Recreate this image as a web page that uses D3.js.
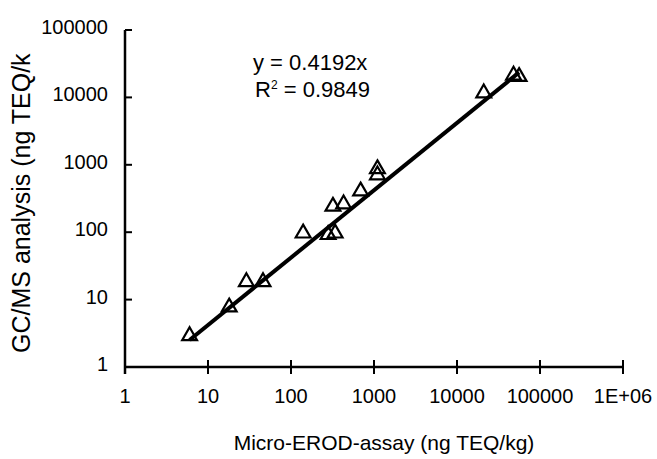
<!DOCTYPE html>
<html>
<head>
<meta charset="utf-8">
<script src="https://cdn.jsdelivr.net/npm/d3@7"></script>
<style>
  body { margin: 0; background: #fff; }
  text { font-family: "Liberation Sans", Arial, sans-serif; fill: #000; }
</style>
</head>
<body>
<div id="block"></div>
<script>
// data
var erod = [6, 18, 29, 46, 140, 280, 340, 320, 430, 690, 1100, 1100, 21000, 48000, 56000];
var gcms = [3, 8, 19, 19, 100, 95, 100, 250, 270, 420, 900, 730, 12000, 22000, 21000];
var xTicks = [1, 10, 100, 1000, 10000, 100000, 1000000];
var yTicks = [1, 10, 100, 1000, 10000, 100000];
var slope = 0.4192;
var eqText = "y = 0.4192x";
var r2Text = "0.9849";

// dimensions
var svg_dx = 657,
    svg_dy = 459,
    margin = {top: 30, right: 34, bottom: 92, left: 125};

var xScale = d3.scaleLog()
               .domain([1, 1000000])
               .range([margin.left, svg_dx - margin.right]);

var yScale = d3.scaleLog()
               .domain([1, 100000])
               .range([svg_dy - margin.bottom, margin.top]);

var svg = d3.select("#block")
            .append("svg")
            .attr("width", svg_dx)
            .attr("height", svg_dy);

// x axis: ticks cross the line
var xFmt = function(d) { return d === 1000000 ? "1E+06" : String(d); };
var x_axis = svg.append("g")
                .attr("transform", "translate(0," + yScale(1) + ")");
x_axis.append("line")
      .attr("x1", xScale(1)).attr("x2", xScale(1000000))
      .attr("stroke", "#000").attr("stroke-width", 2.5);
x_axis.selectAll(".tick")
      .data(xTicks)
      .enter()
      .append("line")
      .attr("x1", function(d) { return xScale(d); })
      .attr("x2", function(d) { return xScale(d); })
      .attr("y1", -7).attr("y2", 7)
      .attr("stroke", "#000").attr("stroke-width", 2);
x_axis.selectAll(".lbl")
      .data(xTicks)
      .enter()
      .append("text")
      .attr("x", function(d) { return xScale(d); })
      .attr("y", 36)
      .attr("text-anchor", "middle")
      .style("font-size", "20px")
      .text(xFmt);

// y axis: ticks point inward
var y_axis = svg.append("g")
                .attr("transform", "translate(" + xScale(1) + ",0)");
y_axis.append("line")
      .attr("y1", yScale(100000)).attr("y2", yScale(1) + 7)
      .attr("stroke", "#000").attr("stroke-width", 2.5);
y_axis.selectAll(".tick")
      .data(yTicks)
      .enter()
      .append("line")
      .attr("y1", function(d) { return yScale(d); })
      .attr("y2", function(d) { return yScale(d); })
      .attr("x1", 0).attr("x2", 7)
      .attr("stroke", "#000").attr("stroke-width", 2);
y_axis.selectAll(".lbl")
      .data(yTicks)
      .enter()
      .append("text")
      .attr("x", -17)
      .attr("y", function(d) { return yScale(d) - 3; })
      .attr("dy", "0.35em")
      .attr("text-anchor", "end")
      .style("font-size", "20px")
      .text(function(d) { return String(d); });

// axis titles
svg.append("text")
   .attr("x", 384)
   .attr("y", 450)
   .attr("text-anchor", "middle")
   .style("font-size", "21px")
   .text("Micro-EROD-assay (ng TEQ/kg)");

svg.append("text")
   .attr("transform", "translate(30,353) rotate(-90)")
   .attr("text-anchor", "start")
   .style("font-size", "25px")
   .text("GC/MS analysis (ng TEQ/k");

// trend line
var ext = d3.extent(erod);
var line = d3.line()
             .x(function(d) { return xScale(d); })
             .y(function(d) { return yScale(d * slope); });
svg.append("path")
   .datum(ext)
   .attr("d", line)
   .attr("fill", "none")
   .attr("stroke", "#000")
   .attr("stroke-width", 4);

// points
var tri = d3.symbol().type(d3.symbolTriangle).size(95);
svg.append("g")
   .selectAll("path")
   .data(d3.range(erod.length))
   .enter()
   .append("path")
   .attr("d", tri)
   .attr("transform", function(i) {
       return "translate(" + xScale(erod[i]) + "," + (yScale(gcms[i]) + 1) + ")";
   })
   .attr("fill", "none")
   .attr("stroke", "#000")
   .attr("stroke-width", 2.2);

// equation
var eq = svg.append("g").style("font-size", "22px");
eq.append("text").attr("x", 253).attr("y", 70).text(eqText);
var r2 = eq.append("text").attr("x", 255).attr("y", 97);
r2.append("tspan").text("R");
r2.append("tspan").attr("dy", -8).style("font-size", "12px").text("2");
r2.append("tspan").attr("dy", 8).text(" = " + r2Text);
</script>
</body>
</html>
